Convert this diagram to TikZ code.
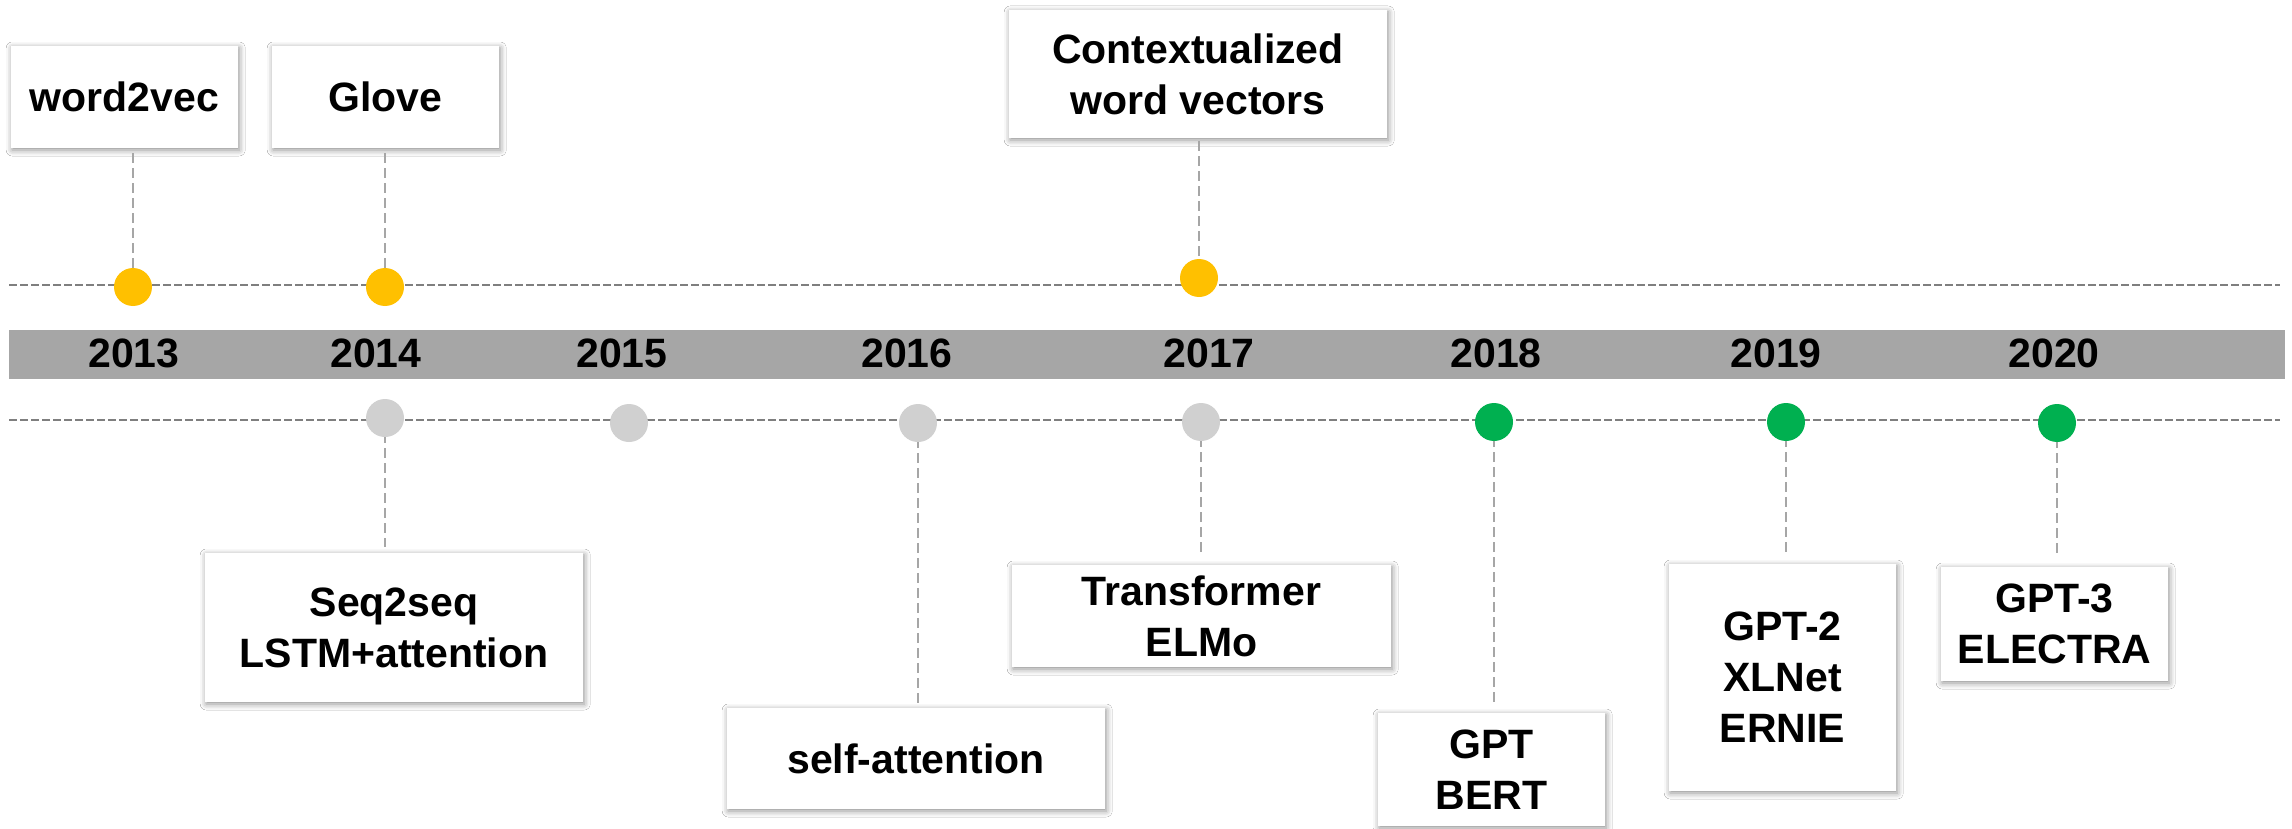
\documentclass[tikz,border=0pt]{standalone}
\usepackage{fontspec}
\setmainfont{Liberation Sans}
\usetikzlibrary{calc,shadows.blur}
\definecolor{bandgray}{HTML}{A6A6A6}
\definecolor{mainline}{HTML}{7F7F7F}
\definecolor{conngray}{HTML}{A6A6A6}
\definecolor{ydot}{HTML}{FFC000}
\definecolor{gdot}{HTML}{00B050}
\definecolor{ldot}{HTML}{D0D0D0}
\begin{document}
\begin{tikzpicture}[x=0.5pt,y=-0.5pt,
  box/.style={fill=white, align=center, inner sep=0pt,
    font=\fontsize{20.5}{25.5}\selectfont\bfseries,
    blur shadow={shadow xshift=0.6pt, shadow yshift=-1pt, shadow blur radius=3pt, shadow opacity=45}},
  dotnode/.style={circle, minimum size=19pt, inner sep=0pt, draw=none},
  yearlabel/.style={anchor=base, inner sep=0pt, font=\fontsize{20.5}{24}\selectfont\bfseries},
  mainln/.style={draw=mainline, line width=1.2pt, dash pattern=on 4pt off 1.5pt},
  connln/.style={draw=conngray, line width=0.7pt, dash pattern=on 5pt off 2.5pt}]
\useasboundingbox (0,0) rectangle (2292,829);
\fill[white] (0,0) rectangle (2292,829);

% band
\path[fill=bandgray] (9,330) rectangle (2285,379);
\foreach \yr/\xx in {2013/134,2014/376,2015/622,2016/907,2017/1209,2018/1496,2019/1776,2020/2054}
  \node[yearlabel] (y\yr) at (\xx,367) {\yr};

% timeline lines
\coordinate (tl) at (9,285);
\coordinate (tr) at (2280,285);
\coordinate (bl) at (9,420);
\coordinate (br) at (2280,420);
\draw[mainln] (tl) -- (tr);
\draw[mainln] (bl) -- (br);

% boxes
\node[box, minimum width=113.5pt, minimum height=51pt] (w2v) at (124.5,97) {word2vec};
\node[box, minimum width=113.5pt, minimum height=51pt] (glove) at (385.5,97) {Glove};
\node[box, minimum width=189pt, minimum height=64pt] (ctx) at (1198,74) {Contextualized\\word vectors};
\node[box, minimum width=189pt, minimum height=74.5pt] (seq) at (394,627.5) {Seq2seq\\LSTM+attention};
\node[box, minimum width=189pt, minimum height=50.5pt] (self) at (916,758.5) {self-attention};
\node[box, minimum width=189.5pt, minimum height=51pt] (trans) at (1201.5,616) {Transformer\\ELMo};
\node[box, minimum width=113.5pt, minimum height=56.5pt] (gpt) at (1491.5,769.5) {GPT\\BERT};
\node[box, minimum width=113.5pt, minimum height=113.5pt] (gpt2) at (1782.5,677.5) {GPT-2\\XLNet\\ERNIE};
\node[box, minimum width=113.5pt, minimum height=57pt] (gpt3) at (2054.5,624) {GPT-3\\ELECTRA};

% dot positions
\coordinate (d13) at (133,287);
\coordinate (d14) at (385,287);
\coordinate (d17) at (1199,278);
\coordinate (b14) at (385,418);
\coordinate (b15) at (629,423);
\coordinate (b16) at (918,423);
\coordinate (b17) at (1201,422);
\coordinate (b18) at (1494,422);
\coordinate (b19) at (1786,422);
\coordinate (b20) at (2057,423);

% connectors
\draw[connln] ($(w2v.south -| d13)+(0,5)$) -- (d13);
\draw[connln] ($(glove.south -| d14)+(0,5)$) -- (d14);
\draw[connln] ($(ctx.south -| d17)+(0,3)$) -- (d17);
\draw[connln] (b14) -- ($(seq.north -| b14)+(0,-6)$);
\draw[connln] (b16) -- ($(self.north -| b16)+(0,-3)$);
\draw[connln] (b17) -- ($(trans.north -| b17)+(0,-11)$);
\draw[connln] (b18) -- ($(gpt.north -| b18)+(0,-9)$);
\draw[connln] (b19) -- ($(gpt2.north -| b19)+(0,-11)$);
\draw[connln] (b20) -- ($(gpt3.north -| b20)+(0,-10)$);

% dots
\node[dotnode, fill=ydot] (n13) at (d13) {};
\node[dotnode, fill=ydot] (n14) at (d14) {};
\node[dotnode, fill=ydot] (n17) at (d17) {};
\node[dotnode, fill=ldot] (m14) at (b14) {};
\node[dotnode, fill=ldot] (m15) at (b15) {};
\node[dotnode, fill=ldot] (m16) at (b16) {};
\node[dotnode, fill=ldot] (m17) at (b17) {};
\node[dotnode, fill=gdot] (m18) at (b18) {};
\node[dotnode, fill=gdot] (m19) at (b19) {};
\node[dotnode, fill=gdot] (m20) at (b20) {};
\end{tikzpicture}
\end{document}
